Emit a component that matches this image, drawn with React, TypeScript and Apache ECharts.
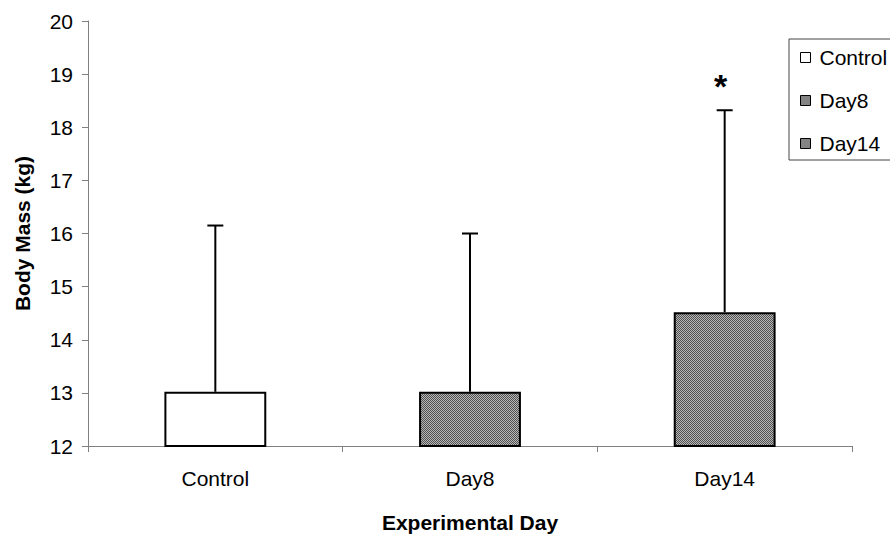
import React, { useEffect, useRef } from "react";
import * as echarts from "echarts";

const categories = ["Control", "Day8", "Day14"];
const means = [13.02, 13.02, 14.52];
const upperErrors = [16.15, 16.0, 18.32];
const significant = [false, false, true];
const yMin = 12;
const yMax = 20;
const yInterval = 1;

const FONT = "'Liberation Sans', Arial, sans-serif";

export default function App() {
  const ref = useRef<HTMLDivElement>(null);
  useEffect(() => {
    if (!ref.current) return;
    const chart = echarts.init(ref.current, undefined, { renderer: "svg" });

    const cv = document.createElement("canvas");
    cv.width = 2;
    cv.height = 2;
    const ctx = cv.getContext("2d")!;
    ctx.fillStyle = "#b8b8b8";
    ctx.fillRect(0, 0, 2, 2);
    ctx.fillStyle = "#505050";
    ctx.fillRect(0, 0, 1, 1);
    ctx.fillRect(1, 1, 1, 1);
    const pattern: any = { image: cv, repeat: "repeat" };

    const fills: any[] = ["#ffffff", pattern, pattern];

    const barSeries = categories.map((name, i) => ({
      name,
      type: "bar",
      barWidth: "40%",
      barGap: "-100%",
      data: categories.map((_, j) => (j === i ? means[j] : "-")),
      itemStyle: { color: fills[i], borderColor: "#000", borderWidth: 2 },
      z: 2,
    }));

    const errData = categories.map((_, i) => [i, means[i], upperErrors[i], significant[i] ? 1 : 0]);

    chart.setOption({
      animation: false,
      backgroundColor: "#fff",
      textStyle: { fontFamily: FONT },
      grid: { left: 88, right: 38, top: 21, bottom: 100, containLabel: false },
      legend: {
        data: categories,
        orient: "vertical",
        left: 789,
        top: 39,
        padding: [8, 40, 6, 11],
        itemGap: 22,
        itemWidth: 10,
        itemHeight: 10,
        icon: "rect",
        borderColor: "#444",
        borderWidth: 1,
        itemStyle: { borderColor: "#000", borderWidth: 1 },
        textStyle: { fontFamily: FONT, fontSize: 21, color: "#000", padding: [0, 0, 0, 4] },
      },
      xAxis: {
        type: "category",
        data: categories,
        name: "Experimental Day",
        nameLocation: "middle",
        nameGap: 66,
        nameTextStyle: { fontFamily: FONT, fontSize: 21, fontWeight: "bold", color: "#000" },
        axisLine: { lineStyle: { color: "#808080", width: 1 } },
        axisTick: { show: true, length: 6, lineStyle: { color: "#808080" } },
        axisLabel: { fontFamily: FONT, fontSize: 21, color: "#000", margin: 22 },
        splitLine: { show: false },
      },
      yAxis: {
        type: "value",
        min: yMin,
        max: yMax,
        interval: yInterval,
        name: "Body Mass (kg)",
        nameLocation: "middle",
        nameGap: 55,
        nameTextStyle: { fontFamily: FONT, fontSize: 21, fontWeight: "bold", color: "#000" },
        axisLine: { show: true, lineStyle: { color: "#808080", width: 1 } },
        axisTick: { show: true, length: 6, lineStyle: { color: "#808080" } },
        axisLabel: { fontFamily: FONT, fontSize: 21, color: "#000", margin: 15 },
        splitLine: { show: false },
      },
      series: [
        ...barSeries,
        {
          type: "custom",
          name: "errors",
          silent: true,
          z: 5,
          data: errData,
          encode: { x: 0, y: [1, 2] },
          renderItem: (params: any, api: any) => {
            const idx = api.value(0);
            const base = api.coord([idx, api.value(1)]);
            const top = api.coord([idx, api.value(2)]);
            const children: any[] = [
              {
                type: "line",
                shape: { x1: base[0], y1: base[1], x2: top[0], y2: top[1] },
                style: { stroke: "#000", lineWidth: 2 },
              },
              {
                type: "line",
                shape: { x1: top[0] - 8, y1: top[1], x2: top[0] + 8, y2: top[1] },
                style: { stroke: "#000", lineWidth: 2 },
              },
            ];
            if (api.value(3) === 1) {
              children.push({
                type: "text",
                x: top[0] - 4,
                y: top[1] - 24,
                style: {
                  text: "*",
                  fontFamily: FONT,
                  fontSize: 34,
                  fontWeight: "bold",
                  fill: "#000",
                  align: "center",
                  verticalAlign: "middle",
                },
              });
            }
            return { type: "group", children };
          },
        },
      ],
    });
    return () => chart.dispose();
  }, []);
  return (
    <div
      ref={ref}
      style={{ position: "absolute", left: 0, top: 0, width: 890, height: 546 }}
    />
  );
}
